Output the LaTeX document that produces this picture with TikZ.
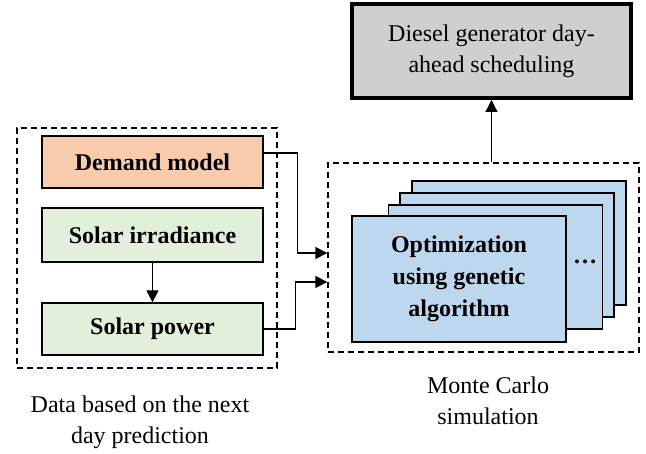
\documentclass[tikz,border=0pt]{standalone}
\usepackage{fontspec}
\setmainfont{Liberation Serif}
\usetikzlibrary{arrows.meta,calc}
\definecolor{peach}{HTML}{F8CBAD}
\definecolor{lgreen}{HTML}{E2EFDA}
\definecolor{lblue}{HTML}{BDD7EE}
\definecolor{lgrey}{HTML}{D0CECE}
\begin{document}
\begin{tikzpicture}[x=1pt,y=-1pt,
  every node/.style={font=\fontsize{24}{31}\selectfont, inner sep=0pt, align=center},
  databox/.style={draw, line width=1.3pt, minimum width=221pt, font=\fontsize{24}{31}\selectfont\bfseries},
  stackbox/.style={draw, line width=1.3pt, fill=lblue, minimum width=214pt, minimum height=124pt},
  dashbox/.style={draw, line width=1.3pt, dash pattern=on 6pt off 4pt},
  arr/.style={line width=1.3pt, -{Triangle[length=12pt,width=12pt]}}]
\useasboundingbox (0,0) rectangle (646,454);
% left group
\node[dashbox, minimum width=260pt, minimum height=240pt] (ld) at (147,248) {};
\node[databox, fill=peach, minimum height=52pt] (dm) at (152.5,162) {Demand model};
\node[databox, fill=lgreen, minimum height=54pt] (ir) at (152.5,235) {Solar irradiance};
\node[databox, fill=lgreen, minimum height=52pt] (sp) at (152.5,329) {Solar power};
\draw[arr] (ir.south) -- (sp.north);
% right group
\node[dashbox, minimum width=311pt, minimum height=189pt] (rd) at (483.5,257.5) {};
\node[stackbox] (s4) at (519,243) {};
\node[stackbox] (s3) at (507,255) {};
\node[stackbox] (s2) at (495.5,267) {};
\node[stackbox, minimum height=126pt, font=\fontsize{24}{32}\selectfont\bfseries] (s1) at (459,279) {Optimization\\using genetic\\algorithm};
\node[font=\fontsize{24}{31}\selectfont\bfseries] (dots) at (585,262) {\ldots};
% diesel
\node[draw, line width=4pt, fill=lgrey, minimum width=279pt, minimum height=94pt] (dg) at (491.5,51) {Diesel generator day-\\ahead scheduling};
% connectors
\coordinate (in1) at (rd.west |- 0,253);
\coordinate (in2) at (rd.west |- 0,282);
\draw[arr] ($(dm.east)+(0,-9)$) -- ++(34,0) |- (in1);
\draw[arr] (sp.east) -- ++(32,0) |- (in2);
\draw[arr] (dg.south |- rd.north) -- (dg.south);
% captions
\node (c1) at (140,422) {Data based on the next\\day prediction};
\node (c2) at (488,401) {Monte Carlo\\simulation};
\end{tikzpicture}
\end{document}
